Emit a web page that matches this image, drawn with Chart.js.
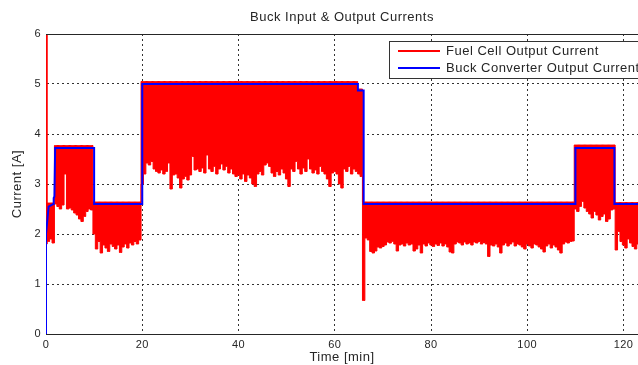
<!DOCTYPE html>
<html>
<head>
<meta charset="utf-8">
<script src="https://cdn.jsdelivr.net/npm/chart.js@4.4.0/dist/chart.umd.min.js"></script>
<style>
  html, body { margin: 0; padding: 0; background: #fff; }
</style>
</head>
<body>
<canvas id="currentChart" width="638" height="365"></canvas>
<script>
// ---- data ----
var chartTitle = 'Buck Input & Output Currents';
var xTitle = 'Time [min]';
var yTitle = 'Current [A]';
var fuelCellName = 'Fuel Cell Output Current';
var buckName = 'Buck Converter Output Current';

var xTicks = [0, 20, 40, 60, 80, 100, 120];
var yTicks = [0, 1, 2, 3, 4, 5, 6];

// fuel cell current is a dense noisy band: sampled every 0.5 min from t = 0
var sampleStart = 0;
var sampleStep = 0.5;

// upper edge of the red band, per operating level (start time -> level)
var fcLevelStart = [0, 0.5, 2, 10, 20, 65, 66, 110, 118.5];
var fcLevelHigh  = [6.0, 2.62, 3.77, 2.64, 5.05, 4.9, 2.64, 3.78, 2.63];

// lower edge of the red band, one row per 5 minutes
var fcLow = [
  1.8, 1.85, 1.9, 1.82, 2.6, 2.55, 2.5, 2.58, 3.2, 2.5,
  2.52, 2.48, 2.42, 2.38, 2.3, 2.25, 2.35, 2.45, 2.5, 2.48,
  2.0, 1.7, 1.85, 1.62, 1.78, 1.72, 1.65, 1.8, 1.75, 1.7,
  1.78, 1.63, 1.74, 1.8, 1.72, 1.82, 1.78, 1.85, 1.8, 1.88,
  3.0, 3.2, 3.42, 3.38, 3.45, 3.3, 3.25, 3.22, 3.28, 3.2,
  3.25, 3.42, 2.9, 3.18, 3.2, 3.12, 2.92, 3.1, 3.15, 3.08,
  3.18, 3.55, 3.28, 3.3, 3.25, 3.32, 3.22, 3.58, 3.3, 3.25,
  3.35, 3.2, 3.3, 3.4, 3.28, 3.35, 3.22, 3.3, 3.2, 3.15,
  3.18, 3.1, 3.2, 3.05, 3.18, 3.12, 3.0, 2.95, 3.2, 3.25,
  3.18, 3.38, 3.42, 3.35, 3.22, 3.15, 3.25, 3.18, 3.3, 3.22,
  3.1, 2.95, 3.3, 3.25, 3.45, 3.3, 3.2, 3.32, 3.25, 3.5,
  3.3, 3.22, 3.28, 3.2, 3.35, 3.25, 3.2, 3.1, 2.95, 3.22,
  3.25, 3.2, 3.0, 2.92, 3.3, 3.25, 3.35, 3.2, 3.3, 3.25,
  3.2, 3.15, 0.67, 1.92, 1.88, 1.65, 1.62, 1.66, 1.74, 1.72,
  1.75, 1.78, 1.84, 1.82, 1.85, 1.8, 1.66, 1.78, 1.8, 1.76,
  1.82, 1.78, 1.8, 1.66, 1.7, 1.78, 1.62, 1.8, 1.76, 1.82,
  1.78, 1.75, 1.8, 1.77, 1.82, 1.76, 1.8, 1.74, 1.64, 1.62,
  1.8, 1.84, 1.82, 1.78, 1.84, 1.8, 1.82, 1.78, 1.84, 1.82,
  1.85, 1.8, 1.83, 1.8, 1.55, 1.78, 1.76, 1.8, 1.74, 1.62,
  1.78, 1.82, 1.76, 1.8, 1.84, 1.76, 1.8, 1.78, 1.74, 1.7,
  1.8, 1.76, 1.72, 1.8, 1.78, 1.74, 1.7, 1.64, 1.76, 1.8,
  1.72, 1.78, 1.74, 1.68, 1.62, 1.8, 1.84, 1.82, 1.85, 1.86,
  2.5, 2.45, 2.55, 2.65, 2.52, 2.45, 2.4, 2.32, 2.45, 2.38,
  2.28, 2.35, 2.4, 2.25, 2.3, 2.48, 2.5, 1.68, 2.05, 1.85,
  1.78, 1.72, 1.9, 1.82, 1.75, 1.7, 1.8
];

// buck converter output current (step profile)
var bcTime    = [0, 0, 0.55, 1.5, 1.6, 1.75, 1.9, 10.0, 10.0, 20.0, 20.0, 64.8, 64.8, 66.0, 66.0, 110.0, 110.0, 118.1, 118.1, 123];
var bcCurrent = [0, 2.0, 2.55, 2.6, 2.72, 2.75, 3.72, 3.72, 2.6, 2.6, 5.0, 5.0, 4.87, 4.87, 2.6, 2.6, 3.72, 3.72, 2.6, 2.6];

var xMax = 123;
var yMax = 6;

// ---- build datasets ----
function levelAt(t) {
    var level = fcLevelHigh[0];
    for (var k = 0; k < fcLevelStart.length; k++) {
        if (t >= fcLevelStart[k]) level = fcLevelHigh[k];
    }
    return level;
}

var fcHighPts = [];
var fcLowPts = [];
for (var i = 0; i < fcLow.length; i++) {
    var t = sampleStart + i * sampleStep;
    fcHighPts.push({ x: t, y: levelAt(t) });
    fcLowPts.push({ x: t, y: fcLow[i] });
}
var bcPts = bcTime.map(function(t, j) { return { x: t, y: bcCurrent[j] }; });

var textColor = '#262626';
var fontFamily = '"Liberation Sans", Arial, Helvetica, sans-serif';

// MATLAB text is a bit loosely spaced
var textSpacing = {
    id: 'textSpacing',
    beforeInit: function(chart) { chart.ctx.letterSpacing = '0.5px'; },
    beforeDraw: function(chart) { chart.ctx.letterSpacing = '0.5px'; }
};

// frame top line and the MATLAB-style legend box inside the axes
var axesDecor = {
    id: 'axesDecor',
    afterDraw: function(chart) {
        var ctx = chart.ctx;
        var area = chart.chartArea;
        ctx.save();
        ctx.strokeStyle = textColor;
        ctx.lineWidth = 1;
        ctx.setLineDash([]);
        ctx.beginPath();
        ctx.moveTo(area.left, area.top + 0.5);
        ctx.lineTo(area.right, area.top + 0.5);
        ctx.stroke();

        var bx = 389, by = 41, bw = 260, bh = 37;
        ctx.fillStyle = '#fff';
        ctx.fillRect(bx, by, bw, bh);
        ctx.strokeStyle = '#333';
        ctx.strokeRect(bx + 0.5, by + 0.5, bw, bh);

        var items = [[fuelCellName, '#ff0000', by + 10], [buckName, '#0000ff', by + 27]];
        ctx.font = '13px ' + fontFamily;
        ctx.textBaseline = 'middle';
        items.forEach(function(it) {
            ctx.strokeStyle = it[1];
            ctx.lineWidth = 2;
            ctx.beginPath();
            ctx.moveTo(398, it[2]);
            ctx.lineTo(440, it[2]);
            ctx.stroke();
            ctx.fillStyle = textColor;
            ctx.fillText(it[0], 446, it[2]);
        });
        ctx.restore();
    }
};

document.addEventListener("DOMContentLoaded", function() {
    var ctx = document.getElementById('currentChart').getContext('2d');
    var currentChart = new Chart(ctx, {
        type: 'line',
        data: {
            datasets: [{
                label: fuelCellName,
                data: fcHighPts,
                borderColor: '#ff0000',
                backgroundColor: '#ff0000',
                borderWidth: 1,
                pointRadius: 0,
                stepped: 'middle',
                fill: '+1',
                order: 2
            }, {
                label: fuelCellName + ' (low)',
                data: fcLowPts,
                borderColor: '#ff0000',
                borderWidth: 1,
                pointRadius: 0,
                stepped: 'middle',
                fill: false,
                order: 2
            }, {
                label: buckName,
                data: bcPts,
                borderColor: '#0000ff',
                borderWidth: 2,
                pointRadius: 0,
                tension: 0,
                fill: false,
                order: 1
            }]
        },
        options: {
            responsive: false,
            animation: false,
            layout: { padding: 0 },
            scales: {
                x: {
                    type: 'linear',
                    min: 0,
                    max: xMax,
                    bounds: 'data',
                    afterBuildTicks: function(scale) {
                        scale.ticks = xTicks.map(function(v) { return { value: v }; });
                    },
                    afterFit: function(scale) { scale.height = 31; },
                    ticks: {
                        color: textColor,
                        padding: 4,
                        maxRotation: 0,
                        font: { family: fontFamily, size: 11 }
                    },
                    grid: { color: '#333', lineWidth: 1, drawTicks: false },
                    border: { display: true, color: textColor, width: 1, dash: [2, 3] },
                    title: {
                        display: true,
                        text: xTitle,
                        color: textColor,
                        padding: { top: 0, bottom: 0 },
                        font: { family: fontFamily, size: 13 }
                    }
                },
                y: {
                    min: 0,
                    max: yMax,
                    afterBuildTicks: function(scale) {
                        scale.ticks = yTicks.map(function(v) { return { value: v }; });
                    },
                    afterFit: function(scale) { scale.width = 46; },
                    ticks: {
                        color: textColor,
                        padding: 5,
                        font: { family: fontFamily, size: 11 }
                    },
                    grid: { color: '#333', lineWidth: 1, drawTicks: false },
                    border: { display: true, color: textColor, width: 1, dash: [2, 3] },
                    title: {
                        display: true,
                        text: yTitle,
                        color: textColor,
                        padding: { top: 10, bottom: 0 },
                        font: { family: fontFamily, size: 13 }
                    }
                }
            },
            plugins: {
                legend: { display: false },
                tooltip: { enabled: false },
                title: {
                    display: true,
                    fullSize: false,
                    text: chartTitle,
                    color: textColor,
                    padding: { top: 10, bottom: 8.4 },
                    font: { family: fontFamily, size: 13, weight: 'normal' }
                }
            }
        },
        plugins: [textSpacing, axesDecor]
    });
});
</script>
</body>
</html>
